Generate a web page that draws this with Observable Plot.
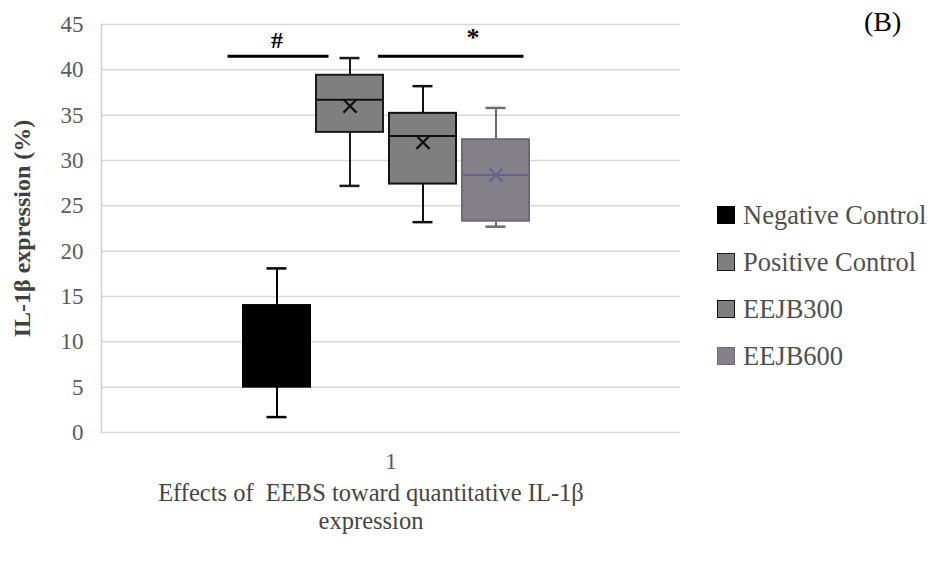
<!DOCTYPE html>
<html><head><meta charset="utf-8">
<script src="https://cdn.jsdelivr.net/npm/d3@7"></script>
<script src="https://cdn.jsdelivr.net/npm/@observablehq/plot@0.6"></script>
<style>
body{margin:0;background:#fff;}
#wrap{position:relative;width:938px;height:565px;font-family:'Liberation Serif','Times New Roman',serif;overflow:hidden;}
#wrap svg{position:absolute;left:0;top:0;}
.tag{position:absolute;left:864px;top:6px;font-size:28px;color:#000;font-family:'Liberation Serif',serif;}
.leg{position:absolute;left:717px;height:24px;display:flex;align-items:center;font-size:26.5px;color:#505050;white-space:nowrap;font-family:'Liberation Serif',serif;}
.leg span.sw{display:inline-block;width:18px;height:18px;margin-right:8px;box-sizing:border-box;}
</style></head><body><div id="wrap"></div>
<script>
const groups = ["Negative Control","Positive Control","EEJB300","EEJB600"];
const mins    = [1.7, 27.2, 23.2, 22.7];
const q1s     = [5.0, 33.1, 27.4, 23.3];
const medians = [9.5, 36.7, 32.7, 28.4];
const q3s     = [14.0, 39.4, 35.2, 32.3];
const maxs    = [18.1, 41.3, 38.2, 35.8];
const means   = [9.5, 36.0, 32.0, 28.4];
const fills   = ["#000000","#7f7f7f","#7f7f7f","#84808a"];
const strokes = ["#000000","#1a1a1a","#111111","#6f6a7a"];
const markColors = ["#000000","#111111","#111111","#6b5f8c"];
const yTicks = [0,5,10,15,20,25,30,35,40,45];
const xTickLabels = ["1"];
const sigLabels = ["#","*"];
const sigLevel = 41.5;
const xTitle = "Effects of  EEBS toward quantitative IL-1\u03b2\nexpression";
const yTitle = "IL-1\u03b2 expression (%)";
const panelTag = "(B)";

const FF = "'Liberation Serif', 'Times New Roman', serif";
const data = groups.map((g,i)=>({group:g,min:mins[i],q1:q1s[i],median:medians[i],q3:q3s[i],max:maxs[i],mean:means[i],fill:fills[i],stroke:strokes[i],mc:markColors[i]}));

const plot = Plot.plot({
  width:938, height:565, marginTop:24, marginBottom:133, marginLeft:101, marginRight:258,
  style:{fontFamily:FF, background:"transparent", overflow:"visible"},
  x:{type:"band", domain:groups, range:[242.5,529.5], paddingInner:0.086, paddingOuter:0, axis:null},
  y:{domain:[0,45], axis:null},
  marks:[
    Plot.ruleY(yTicks, {stroke:"#d9d9d9", strokeWidth:1.5}),
    Plot.frame({anchor:"left", stroke:"#d0d0d0", strokeWidth:1.5}),
    Plot.axisY(yTicks, {tickSize:0, tickPadding:18, fontSize:23, fill:"#5a5a5a", label:null, fontFamily:FF}),
    Plot.ruleX(data, {x:"group", y1:"min", y2:"q1", stroke:"stroke", strokeWidth:2}),
    Plot.ruleX(data, {x:"group", y1:"q3", y2:"max", stroke:"stroke", strokeWidth:2}),
    Plot.tickY(data, {x:"group", y:"min", stroke:"stroke", strokeWidth:2.5, insetLeft:23.5, insetRight:23.5}),
    Plot.tickY(data, {x:"group", y:"max", stroke:"stroke", strokeWidth:2.5, insetLeft:23.5, insetRight:23.5}),
    Plot.barY(data, {x:"group", y1:"q1", y2:"q3", fill:"fill", stroke:"stroke", strokeWidth:2}),
    Plot.tickY(data, {x:"group", y:"median", stroke:"mc", strokeWidth:2, insetLeft:1, insetRight:1}),
    Plot.dot(data, {x:"group", y:"mean", symbol:"times", r:6, stroke:"mc", strokeWidth:2.2}),
    Plot.ruleY([{a:groups[0], b:groups[0], y:sigLevel}], {x1:"a", x2:"b", y:"y", stroke:"#000", strokeWidth:3, insetLeft:-15.5, insetRight:-18.5}),
    Plot.ruleY([{a:groups[2], b:groups[3], y:sigLevel}], {x1:"a", x2:"b", y:"y", stroke:"#000", strokeWidth:3, insetLeft:-11, insetRight:5.5}),
    Plot.text([{g:groups[0], t:sigLabels[0]}], {x:"g", y:sigLevel, text:"t", dy:-16, fontSize:24, fontWeight:"bold", fill:"#000", fontFamily:FF}),
    Plot.text([{g:groups[3], t:sigLabels[1]}], {x:"g", y:sigLevel, text:"t", dx:-23, dy:-19, fontSize:26, fontWeight:"bold", fill:"#000", fontFamily:FF}),
    Plot.text(xTickLabels, {frameAnchor:"bottom", dy:36, fontSize:23, fill:"#5a5a5a", fontFamily:FF}),
    Plot.text([xTitle], {frameAnchor:"bottom", lineAnchor:"top", dx:-20, dy:48, fontSize:24.5, fill:"#454545", lineHeight:1.15, fontFamily:FF}),
    Plot.text([yTitle], {frameAnchor:"left", textAnchor:"middle", dx:-79, rotate:-90, fontSize:24, fontWeight:"bold", fill:"#404040", fontFamily:FF})
  ]
});
const wrap = document.getElementById("wrap");
wrap.appendChild(plot);

const tag = document.createElement("div");
tag.className = "tag"; tag.textContent = panelTag; wrap.appendChild(tag);

const legTops = [203, 250, 297, 344];
groups.forEach((g,i)=>{
  const row = document.createElement("div");
  row.className = "leg"; row.style.top = legTops[i]+"px";
  const sw = document.createElement("span");
  sw.className = "sw"; sw.style.background = fills[i];
  sw.style.border = "1.5px solid " + strokes[i];
  row.appendChild(sw);
  row.appendChild(document.createTextNode(g));
  wrap.appendChild(row);
});
</script>
</body></html>
